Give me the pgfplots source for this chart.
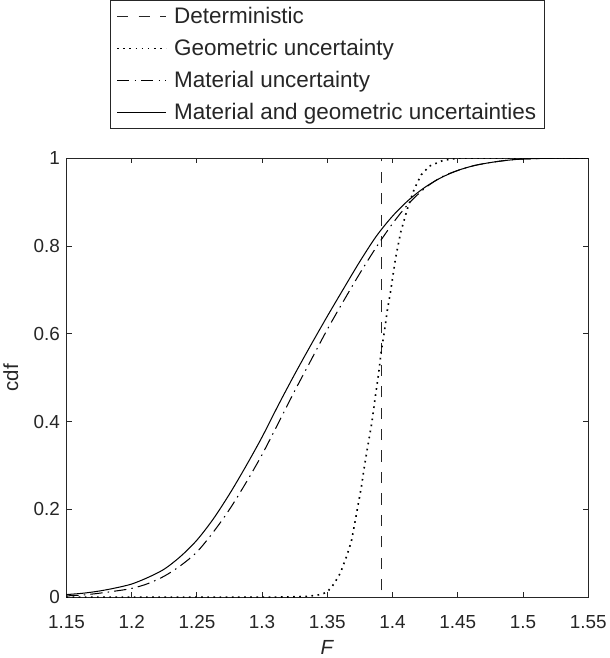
\documentclass[border=0pt]{standalone}
\usepackage{fontspec}
\setmainfont{Liberation Sans}
\usepackage{pgfplots}
\pgfplotsset{compat=1.18}
\definecolor{axgray}{HTML}{262626}

\begin{document}
\begin{tikzpicture}
\begin{axis}[
    width=511bp, height=430bp, scale only axis,
    xmin=1.15, xmax=1.55, ymin=0, ymax=1,
    xtick={1.15,1.2,1.25,1.3,1.35,1.4,1.45,1.5,1.55},
    ytick={0,0.2,0.4,0.6,0.8,1},
    tick align=inside, major tick length=5bp,
    axis line style={axgray, line width=0.8bp},
    every tick/.style={axgray, line width=0.8bp},
    tick label style={font=\fontsize{18.5bp}{22bp}\selectfont, text=axgray},
    xticklabel style={yshift=-14bp},
    yticklabel style={xshift=-3bp},
    /pgf/number format/assume math mode=true,
    xlabel={\textit{F}}, ylabel={cdf},
    label style={font=\fontsize{20bp}{24bp}\selectfont, text=axgray},
    xlabel style={yshift=-5bp},
    ylabel style={yshift=8bp},
    legend style={at={(0.5,1.067)}, anchor=south, draw=axgray,
        font=\fontsize{22bp}{26bp}\selectfont, text=axgray,
        inner xsep=6bp, inner ysep=5bp, row sep=10bp},
    legend cell align=left,
    legend image code/.code={\draw[#1] (0bp,0bp) -- (48bp,0bp); \path (53bp,0bp);},
]

% Deterministic
\addplot[axgray, line width=1bp, dash pattern=on 11bp off 10bp]
    coordinates {(1.15,0) (1.3913,0) (1.3913,1) (1.55,1)};

% Geometric uncertainty
\addplot[black, line width=1.6bp, dash pattern=on 1.6bp off 4.4bp]
    coordinates {
    (1.15,0) (1.30,0) (1.32,0.0005) (1.335,0.002) (1.345,0.006) (1.35,0.012)
    (1.355,0.03) (1.36,0.055) (1.365,0.095) (1.3685,0.128) (1.371,0.168)
    (1.3736,0.211) (1.3762,0.253) (1.3783,0.296) (1.3807,0.339) (1.3841,0.397)
    (1.3867,0.455) (1.3893,0.509) (1.3913,0.56) (1.394,0.61) (1.3958,0.65)
    (1.3984,0.695) (1.4023,0.772) (1.4062,0.831) (1.4114,0.885) (1.4167,0.93)
    (1.4219,0.962) (1.4284,0.982) (1.4388,0.995) (1.45,1) (1.55,1)
    };

% Material uncertainty
\addplot[black, line width=1bp, smooth, dash pattern=on 12bp off 5bp on 1.5bp off 5bp]
    coordinates {
    (1.15,0.003) (1.1625,0.005) (1.175,0.009) (1.1875,0.014) (1.20,0.020)
    (1.2125,0.031) (1.225,0.048) (1.2375,0.072) (1.25,0.103) (1.2625,0.148)
    (1.275,0.200) (1.2875,0.26) (1.30,0.325) (1.3125,0.397) (1.325,0.47)
    (1.3375,0.54) (1.35,0.61) (1.3625,0.675) (1.375,0.738) (1.3875,0.797)
    (1.40,0.851) (1.4125,0.897) (1.425,0.932) (1.4375,0.957) (1.45,0.972)
    (1.4625,0.983) (1.475,0.99) (1.4875,0.995) (1.50,0.998) (1.525,1.0) (1.55,1.0)
    };

% Material and geometric uncertainties
\addplot[black, line width=1bp, smooth]
    coordinates {
    (1.15,0.006) (1.1625,0.009) (1.175,0.014) (1.1875,0.021) (1.20,0.030)
    (1.2125,0.045) (1.225,0.064) (1.2375,0.093) (1.25,0.13) (1.2625,0.178)
    (1.275,0.235) (1.2875,0.298) (1.30,0.365) (1.3125,0.438) (1.325,0.508)
    (1.3375,0.575) (1.35,0.64) (1.3625,0.703) (1.375,0.765) (1.3875,0.822)
    (1.40,0.868) (1.4125,0.905) (1.425,0.934) (1.4375,0.956) (1.45,0.972)
    (1.4625,0.983) (1.475,0.99) (1.4875,0.995) (1.50,0.998) (1.525,1.0) (1.55,1.0)
    };

\legend{Deterministic, Geometric uncertainty, Material uncertainty,
        Material and geometric uncertainties}
\end{axis}
\end{tikzpicture}
\end{document}
